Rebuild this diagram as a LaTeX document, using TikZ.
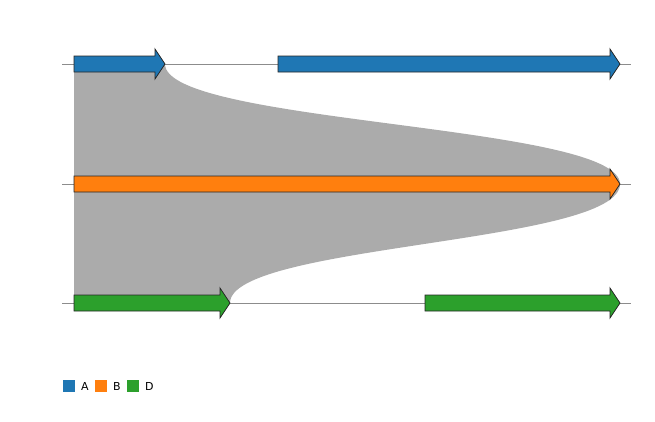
\documentclass[tikz,border=0pt]{standalone}
\usepackage{fontspec}
\setmainfont{DejaVu Sans}
\definecolor{cA}{HTML}{1F77B4}
\definecolor{cB}{HTML}{FF7F0E}
\definecolor{cD}{HTML}{2CA02C}
\definecolor{band}{HTML}{ABABAB}
\definecolor{track}{HTML}{8C8C8C}
\newcommand{\genearrow}[5]{% color, x1, xtip, y, name
  \path[genestyle,fill=#1] (#2,#4-8) -- (#3-10,#4-8) -- (#3-10,#4-15) -- (#3,#4) -- (#3-10,#4+15) -- (#3-10,#4+8) -- (#2,#4+8) -- cycle;
  \coordinate (#5) at (#3,#4);}
\begin{document}
\begin{tikzpicture}[x=1pt,y=-1pt,
  genestyle/.style={draw=black!85,line width=0.8pt,line join=miter},
  trackline/.style={draw=track,line width=0.8pt},
  legbox/.style={minimum width=12pt,minimum height=12pt,inner sep=0pt},
  legtext/.style={font=\fontsize{11pt}{13pt}\selectfont,inner sep=0pt,anchor=west}]
\useasboundingbox (0,0) rectangle (655,421);
% tracks
\coordinate (t1l) at (62,64);  \coordinate (t1r) at (631,64);
\coordinate (t2l) at (62,184); \coordinate (t2r) at (631,184);
\coordinate (t3l) at (62,303); \coordinate (t3r) at (631,303);
\draw[trackline] (t1l) -- (t1r);
\draw[trackline] (t2l) -- (t2r);
\draw[trackline] (t3l) -- (t3r);
% band
\fill[band] (74,64) -- (165,64) .. controls (165,124) and (620,124) .. (620,184)
  .. controls (620,244) and (230,244) .. (230,303) -- (74,303) -- cycle;
% genes
\genearrow{cA}{74}{165}{64}{a1}
\genearrow{cA}{278}{620}{64}{a2}
\genearrow{cB}{74}{620}{184}{b1}
\genearrow{cD}{74}{230}{303}{d1}
\genearrow{cD}{425}{620}{303}{d2}
% legend
\node[legbox,fill=cA] (lA) at (69,386) {};
\node[legtext] (tA) at (81,386) {A};
\node[legbox,fill=cB] (lB) at (101,386) {};
\node[legtext] (tB) at (113,386) {B};
\node[legbox,fill=cD] (lD) at (133,386) {};
\node[legtext] (tD) at (145,386) {D};
\end{tikzpicture}
\end{document}
